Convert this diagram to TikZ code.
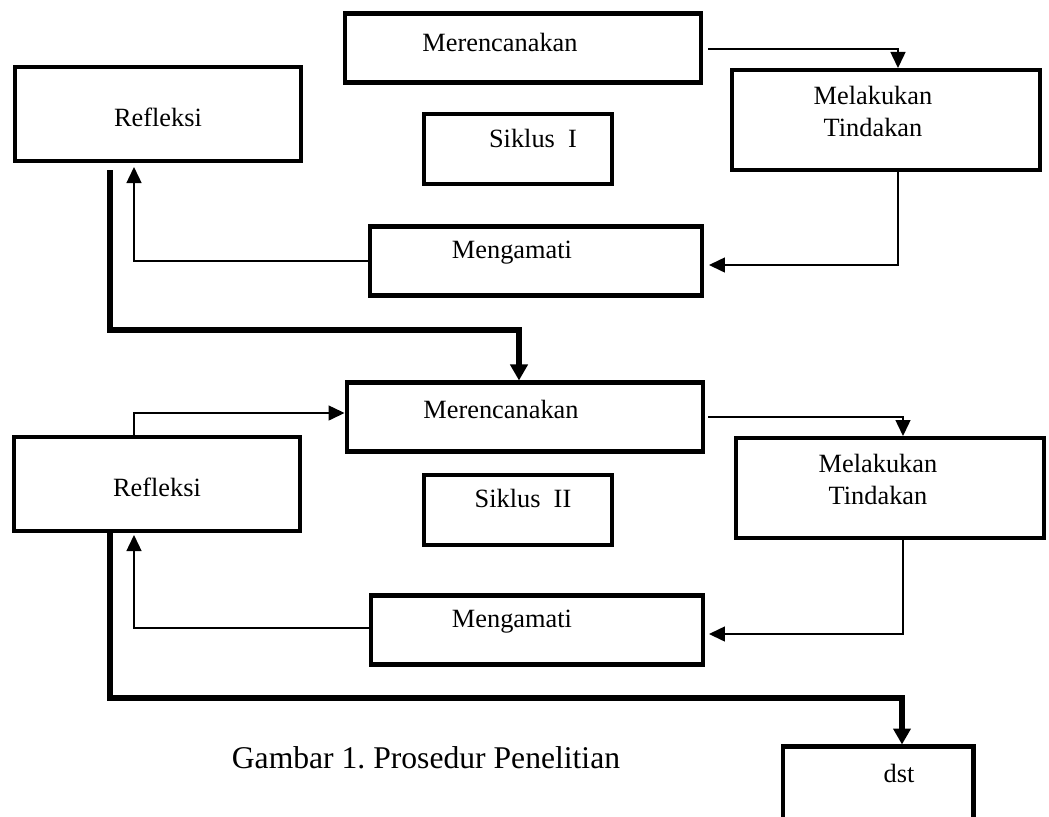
\documentclass[tikz,border=0pt]{standalone}
\usepackage{fontspec}
\setmainfont{Liberation Serif}
\usetikzlibrary{arrows.meta,positioning,calc}
\frenchspacing

\newcommand{\boxtext}[3]{\raisebox{#2}[\height][\depth]{\hspace*{#1}#3\hspace*{-#1}}}

\begin{document}
\begin{tikzpicture}[
  x=0.02cm, y=-0.02cm,
  font=\fontsize{15}{18}\selectfont,
  box/.style={draw,line width=2.3pt,inner sep=0pt},
  plan/.style={box,minimum width=7.14cm,minimum height=1.38cm},
  reflect/.style={box,minimum width=5.72cm,minimum height=1.88cm},
  cycle/.style={box,minimum width=3.76cm,minimum height=1.4cm},
  act/.style={box,minimum width=6.18cm,minimum height=2.0cm},
  observe/.style={box,minimum width=6.64cm,minimum height=1.38cm},
  link/.style={-{Triangle[length=0.32cm,width=0.3cm]},line width=0.85pt},
  flow/.style={-{Triangle[length=0.32cm,width=0.34cm]},line width=3.1pt}]

  \useasboundingbox (0,0) rectangle (1049,816);

  % Siklus I
  \node[plan] (mer1) at (523,48) {\boxtext{-0.46cm}{0.12cm}{Merencanakan}};
  \node[reflect] (ref1) at (158,114) {\boxtext{0cm}{-0.06cm}{Refleksi}};
  \node[cycle] (sik1) at (518,149) {\boxtext{0.3cm}{0.22cm}{Siklus\ \ I}};
  \node[act] (mel1) at (886,120) {\boxtext{-0.26cm}{0.12cm}{\begin{tabular}{@{}c@{}}Melakukan\\Tindakan\end{tabular}}};
  \node[observe] (men1) at (536,261) {\boxtext{-0.48cm}{0.16cm}{Mengamati}};

  % Siklus II
  \node[plan] (mer2) at (525,417) {\boxtext{-0.48cm}{0.16cm}{Merencanakan}};
  \node[reflect] (ref2) at (157,484) {\boxtext{0cm}{-0.06cm}{Refleksi}};
  \node[cycle] (sik2) at (518,510) {\boxtext{0.1cm}{0.24cm}{Siklus\ \ II}};
  \node[act] (mel2) at (890,488) {\boxtext{-0.24cm}{0.12cm}{\begin{tabular}{@{}c@{}}Melakukan\\Tindakan\end{tabular}}};
  \node[observe] (men2) at (537,630) {\boxtext{-0.5cm}{0.16cm}{Mengamati}};

  \node[box,minimum width=3.82cm,minimum height=1.5cm] (dst) at (878,784) {\boxtext{0.42cm}{0.22cm}{dst}};
  \node[font=\fontsize{18}{22}\selectfont] (caption) at (426,758) {Gambar 1. Prosedur Penelitian};

  % Alur siklus I
  \draw[link] ($(mer1.east)+(5,1)$) -| ($(mel1.north)+(12,0)$);
  \draw[link] ($(mel1.south)+(12,0)$) |- ($(men1.east)+(5,4)$);
  \draw[link] (men1.west) -| ($(ref1.south)+(-24,4)$);
  \draw[flow] ($(ref1.south)+(-48,7)$) -- ++(0,160) -| ($(mer2.north)+(-6,0)$);

  % Alur siklus II
  \draw[link] ($(ref2.north)+(-23,0)$) |- ($(mer2.west)+(0,-4)$);
  \draw[link] ($(mer2.east)+(3,0)$) -| ($(mel2.north)+(13,0)$);
  \draw[link] ($(mel2.south)+(13,0)$) |- ($(men2.east)+(4,4)$);
  \draw[link] ($(men2.west)+(0,-2)$) -| ($(ref2.south)+(-23,2)$);
  \draw[flow] ($(ref2.south)+(-47,0)$) -- ++(0,165) -| ($(dst.north)+(24,0)$);

\end{tikzpicture}
\end{document}
